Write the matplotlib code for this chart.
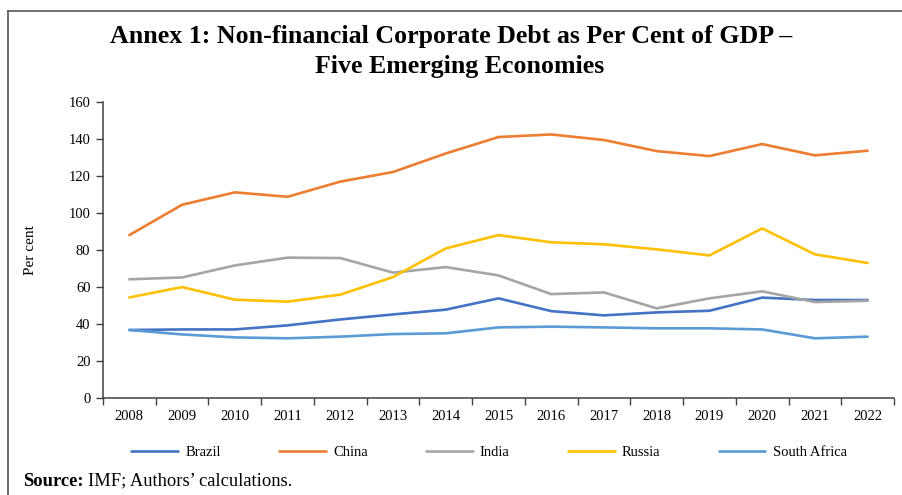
import matplotlib
matplotlib.use("Agg")
import matplotlib.pyplot as plt
from matplotlib.lines import Line2D

plt.rcParams['font.family'] = ['Liberation Serif', 'DejaVu Serif']

years = ["2008", "2009", "2010", "2011", "2012", "2013", "2014", "2015",
         "2016", "2017", "2018", "2019", "2020", "2021", "2022"]
brazil = [36.6, 36.9, 36.9, 39.1, 42.3, 45.0, 47.6, 53.7, 46.8, 44.5, 46.1, 47.0, 54.1, 52.8, 52.8]
china = [87.9, 104.3, 111.0, 108.6, 116.8, 122.0, 132.0, 140.9, 142.3, 139.3, 133.3, 130.6, 137.1, 131.0, 133.5]
india = [64.0, 65.0, 71.5, 75.7, 75.5, 67.6, 70.6, 66.1, 56.0, 56.9, 48.3, 53.7, 57.5, 51.7, 52.4]
russia = [54.2, 59.8, 53.0, 51.9, 55.7, 65.2, 80.7, 87.9, 84.0, 82.9, 80.2, 76.9, 91.5, 77.5, 72.8]
south_africa = [36.6, 34.2, 32.6, 32.1, 33.0, 34.4, 34.8, 38.0, 38.4, 38.0, 37.5, 37.5, 36.9, 32.1, 33.0]

series = [
    ("Brazil", brazil, "#4472C4"),
    ("China", china, "#ED7D31"),
    ("India", india, "#A5A5A5"),
    ("Russia", russia, "#FFC000"),
    ("South Africa", south_africa, "#5B9BD5"),
]

W, H = 902, 495
fig = plt.figure(figsize=(W / 100, H / 100), dpi=100)
ax = fig.add_axes([103 / W, 1 - 397.7 / H, (894 - 103) / W, (397.7 - 101.7) / H])

x = list(range(len(years)))
for name, vals, col in series:
    ax.plot(x, vals, color=col, lw=1.9, label=name, solid_capstyle='round')

ax.set_xlim(-0.5, len(years) - 0.5)
ax.set_ylim(0, 160)
ax.set_yticks(range(0, 161, 20))
ax.set_xticks(x)
ax.set_xticklabels(years)
ax.set_xticks([i - 0.5 for i in range(len(years) + 1)], minor=True)
ax.tick_params(axis='x', which='major', length=0, pad=9, labelsize=10.5)
ax.tick_params(axis='x', which='minor', length=5, width=1, color='#404040', direction='out')
ax.tick_params(axis='y', length=5, width=1, color='#404040', direction='out', pad=4, labelsize=10.5)

for s in ['top', 'right']:
    ax.spines[s].set_visible(False)
for s in ['left', 'bottom']:
    ax.spines[s].set_color('#404040')
    ax.spines[s].set_linewidth(1.1)

ax.set_ylabel("Per cent", fontsize=11, labelpad=23)

fig.text(451 / W, 1 - 37 / H, "Annex 1: Non-financial Corporate Debt as Per Cent of GDP \u2013",
         ha='center', va='center', fontsize=18.6, fontweight='bold')
fig.text(460 / W, 1 - 66 / H, "Five Emerging Economies",
         ha='center', va='center', fontsize=18.6, fontweight='bold')

fig.legend(loc='center', bbox_to_anchor=(489 / W, 1 - 452 / H), ncol=5, frameon=False,
           fontsize=10.5, handlelength=3.2, columnspacing=4.0, handletextpad=0.5)

# source note: bold prefix followed by regular text
renderer = fig.canvas.get_renderer()
src = fig.text(23 / W, 1 - 481 / H, "Source:", ha='left', va='center', fontsize=13.3, fontweight='bold')
bb = src.get_window_extent(renderer=renderer)
fig.text((bb.x1 + 4) / W, 1 - 481 / H, "IMF; Authors\u2019 calculations.", ha='left', va='center', fontsize=13.3)

# outer frame (left and top edges)
fig.add_artist(Line2D([8 / W, 8 / W], [0, 1 - 11 / H], transform=fig.transFigure, color='#555555', lw=1.2))
fig.add_artist(Line2D([8 / W, 1], [1 - 11 / H, 1 - 11 / H], transform=fig.transFigure, color='#555555', lw=1.2))

fig.savefig("out.png", dpi=100)
